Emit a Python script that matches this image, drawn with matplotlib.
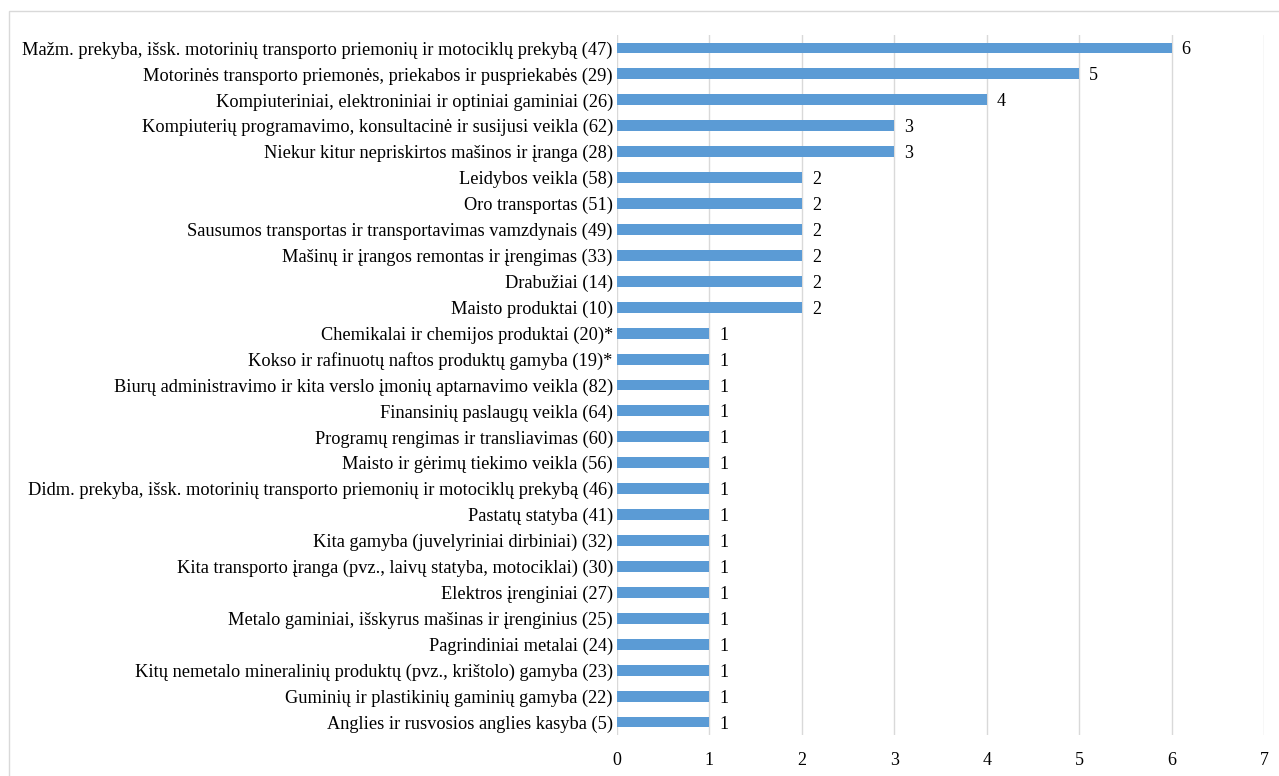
import matplotlib.pyplot as plt
from matplotlib.patches import Rectangle

plt.rcParams['font.family'] = ['Liberation Serif', 'DejaVu Serif']

categories = [
    "Mažm. prekyba, išsk. motorinių transporto priemonių ir motociklų prekybą (47)",
    "Motorinės transporto priemonės, priekabos ir puspriekabės (29)",
    "Kompiuteriniai, elektroniniai ir optiniai gaminiai (26)",
    "Kompiuterių programavimo, konsultacinė ir susijusi veikla (62)",
    "Niekur kitur nepriskirtos mašinos ir įranga (28)",
    "Leidybos veikla (58)",
    "Oro transportas (51)",
    "Sausumos transportas ir transportavimas vamzdynais (49)",
    "Mašinų ir įrangos remontas ir įrengimas (33)",
    "Drabužiai (14)",
    "Maisto produktai (10)",
    "Chemikalai ir chemijos produktai (20)*",
    "Kokso ir rafinuotų naftos produktų gamyba (19)*",
    "Biurų administravimo ir kita verslo įmonių aptarnavimo veikla (82)",
    "Finansinių paslaugų veikla (64)",
    "Programų rengimas ir transliavimas (60)",
    "Maisto ir gėrimų tiekimo veikla (56)",
    "Didm. prekyba, išsk. motorinių transporto priemonių ir motociklų prekybą (46)",
    "Pastatų statyba (41)",
    "Kita gamyba (juvelyriniai dirbiniai) (32)",
    "Kita transporto įranga (pvz., laivų statyba, motociklai) (30)",
    "Elektros įrenginiai (27)",
    "Metalo gaminiai, išskyrus mašinas ir įrenginius (25)",
    "Pagrindiniai metalai (24)",
    "Kitų nemetalo mineralinių produktų (pvz., krištolo) gamyba (23)",
    "Guminių ir plastikinių gaminių gamyba (22)",
    "Anglies ir rusvosios anglies kasyba (5)",
]
values = [6, 5, 4, 3, 3, 2, 2, 2, 2, 2, 2,
          1, 1, 1, 1, 1, 1, 1, 1, 1, 1, 1, 1, 1, 1, 1, 1]

fig = plt.figure(figsize=(12.79, 7.76), dpi=100)
fig.patches.append(Rectangle((9 / 1279, -0.1), 1.2, 1 - 11 / 776 + 0.1,
                             transform=fig.transFigure, fill=False,
                             edgecolor='#d9d9d9', linewidth=1))
ax = fig.add_axes([617 / 1279, 1 - 735 / 776, (1264 - 617) / 1279, 700 / 776])

y = list(range(len(categories)))
ax.barh(y, values, height=0.42, color='#5b9bd5', zorder=3)
for yi, v in zip(y, values):
    ax.text(v + 0.11, yi, str(v), va='center_baseline', ha='left', fontsize=13)

ax.set_xlim(0, 7)
ax.set_ylim(len(categories) - 0.5, -0.5)
ax.set_xticks(range(8))
ax.set_yticks(y)
ax.set_yticklabels(categories, fontsize=13.2)
ax.tick_params(axis='both', length=0)
ax.tick_params(axis='x', labelsize=13, pad=12)
ax.tick_params(axis='y', pad=3)
ax.grid(axis='x', color='#d9d9d9', linewidth=1, zorder=0)
for s in ax.spines.values():
    s.set_visible(False)

fig.savefig('out.png', dpi=100)
